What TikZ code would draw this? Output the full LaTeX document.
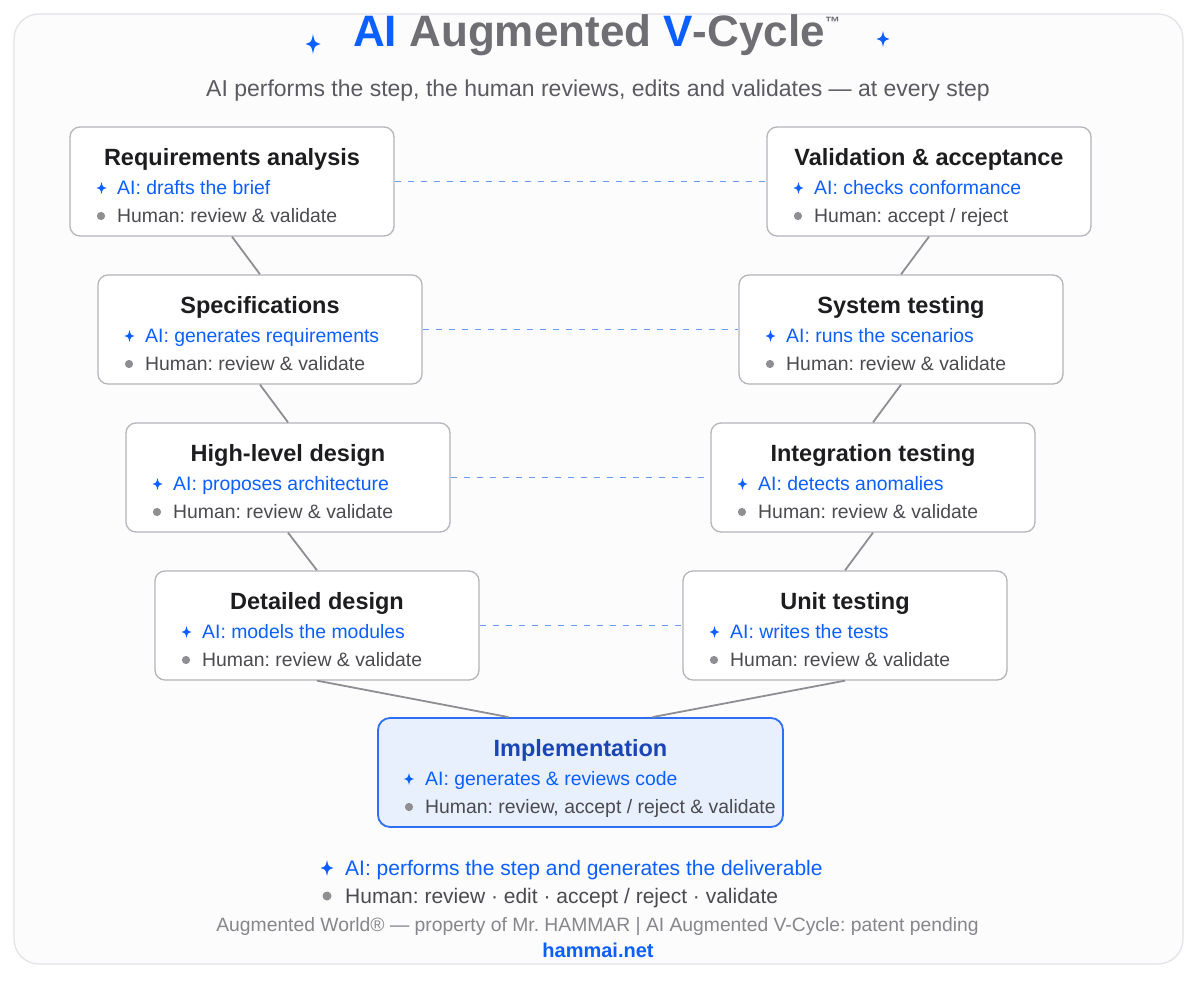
\documentclass[tikz,border=0pt]{standalone}
\usepackage{fontspec}
\setmainfont{Liberation Sans}
\frenchspacing
\definecolor{aiblue}{HTML}{0B5FFF}
\definecolor{headdark}{HTML}{1D1D1F}
\definecolor{humgray}{HTML}{4A4A4F}
\definecolor{titlegray}{HTML}{6E6E73}
\definecolor{subgray}{HTML}{5A5A60}
\definecolor{footgray}{HTML}{86868B}
\definecolor{boxgray}{HTML}{B5B5BA}
\definecolor{conngray}{HTML}{8E8E93}
\definecolor{dotgray}{HTML}{8E8E93}
\definecolor{dashblue}{HTML}{6A9AF7}
\definecolor{implfill}{HTML}{E8F0FE}
\definecolor{impldraw}{HTML}{2F6FF5}
\definecolor{implhead}{HTML}{1A46B5}
\definecolor{framegray}{HTML}{E3E3E8}
\definecolor{framefill}{HTML}{FCFCFD}
\tikzset{
  boxst/.style={draw=boxgray, line width=1.3pt, fill=white, rounded corners=10pt,
    minimum width=324pt, minimum height=109pt, inner sep=0pt},
  implst/.style={draw=impldraw, line width=1.8pt, fill=implfill, rounded corners=12pt,
    minimum width=405pt, minimum height=109pt, inner sep=0pt},
  headst/.style={anchor=base, text=headdark, font=\bfseries\fontsize{23.5}{28}\selectfont, inner sep=0pt},
  aist/.style={anchor=base west, text=aiblue, font=\fontsize{19.4}{23}\selectfont, inner sep=0pt},
  humst/.style={anchor=base west, text=humgray, font=\fontsize{19.4}{23}\selectfont, inner sep=0pt},
  conn/.style={draw=conngray, line width=1.8pt},
  dashlink/.style={draw=dashblue, line width=1.4pt, dash pattern=on 6pt off 7pt},
  spark/.pic={\fill (0,-1) .. controls (0.2,-0.2) .. (1,0) .. controls (0.2,0.2) .. (0,1)
     .. controls (-0.2,0.2) .. (-1,0) .. controls (-0.2,-0.2) .. (0,-1) -- cycle;}
}
% #1 name, #2 x0, #3 y0, #4 heading, #5 AI line, #6 human line
\newcommand\vstep[6]{%
  \node[boxst] (#1) at (#2+162,#3+54.5) {};
  \node[headst] (#1-h) at (#2+162,#3+38) {#4};
  \pic[color=aiblue, xscale=5.2, yscale=6] at (#2+31.5,#3+61) {spark};
  \node[aist] (#1-a) at (#2+47,#3+67.5) {#5};
  \fill[dotgray] (#2+31,#3+89) circle (4.1);
  \node[humst] (#1-u) at (#2+47,#3+95.5) {#6};
}
\begin{document}
\begin{tikzpicture}[x=1pt,y=-1pt]
\useasboundingbox (0,0) rectangle (1200,982);
\fill[white] (0,0) rectangle (1200,982);
\draw[draw=framegray, fill=framefill, line width=1.3pt, rounded corners=25pt] (14,14) rectangle (1183,964);

% title
\node[anchor=base west, inner sep=0pt, font=\bfseries\fontsize{44}{44}\selectfont] (title) at (353,47)
  {\textcolor{aiblue}{AI} \textcolor{titlegray}{Augmented} \textcolor{aiblue}{V}\textcolor{titlegray}{-Cycle\raisebox{19pt}{\fontsize{15}{15}\selectfont ™}}};
\pic[color=aiblue, xscale=7.5, yscale=10] at (313,44) {spark};
\pic[color=aiblue, xscale=6.5, yscale=8] at (883,39) {spark};
\node[anchor=base, inner sep=0pt, text=subgray, font=\fontsize{23}{27}\selectfont] (subtitle) at (598,96)
  {AI performs the step, the human reviews, edits and validates — at every step};

% left branch
\vstep{req}{70}{127}{Requirements analysis}{AI: drafts the brief}{Human: review \& validate}
\vstep{spec}{98}{275}{Specifications}{AI: generates requirements}{Human: review \& validate}
\vstep{hld}{126}{423}{High-level design}{AI: proposes architecture}{Human: review \& validate}
\vstep{dd}{155}{571}{Detailed design}{AI: models the modules}{Human: review \& validate}
% right branch
\vstep{val}{767}{127}{Validation \& acceptance}{AI: checks conformance}{Human: accept / reject}
\vstep{sys}{739}{275}{System testing}{AI: runs the scenarios}{Human: review \& validate}
\vstep{integ}{711}{423}{Integration testing}{AI: detects anomalies}{Human: review \& validate}
\vstep{unit}{683}{571}{Unit testing}{AI: writes the tests}{Human: review \& validate}

% implementation
\node[implst] (impl) at (580.5,772.5) {};
\node[headst, text=implhead] (impl-h) at (580.5,756) {Implementation};
\pic[color=aiblue, xscale=5.2, yscale=6] at (409,779) {spark};
\node[aist] (impl-a) at (425,785.5) {AI: generates \& reviews code};
\fill[dotgray] (409,807) circle (4.1);
\node[humst] (impl-u) at (425,813.5) {Human: review, accept / reject \& validate};

% connectors
\coordinate (implL) at ([xshift=-72pt]impl.north);
\coordinate (implR) at ([xshift=72pt]impl.north);
\draw[conn] (req.south) -- (spec.north);
\draw[conn] (spec.south) -- (hld.north);
\draw[conn] (hld.south) -- (dd.north);
\draw[conn] (dd.south) -- (implL);
\draw[conn] (val.south) -- (sys.north);
\draw[conn] (sys.south) -- (integ.north);
\draw[conn] (integ.south) -- (unit.north);
\draw[conn] (unit.south) -- (implR);
\draw[dashlink] (req.east) -- (val.west);
\draw[dashlink] (spec.east) -- (sys.west);
\draw[dashlink] (hld.east) -- (integ.west);
\draw[dashlink] (dd.east) -- (unit.west);

% legend
\pic[color=aiblue, xscale=6.5, yscale=8] at (327,868) {spark};
\node[anchor=base west, inner sep=0pt, text=aiblue, font=\fontsize{21}{25}\selectfont] (legai) at (345,875)
  {AI: performs the step and generates the deliverable};
\fill[dotgray] (327,896) circle (4.5);
\node[anchor=base west, inner sep=0pt, text=humgray, font=\fontsize{21}{25}\selectfont] (leghum) at (345,903)
  {Human: review · edit · accept / reject · validate};
\node[anchor=base, inner sep=0pt, text=footgray, font=\fontsize{19.3}{23}\selectfont] (foot) at (597.5,931)
  {Augmented World® — property of Mr. HAMMAR | AI Augmented V-Cycle: patent pending};
\node[anchor=base, inner sep=0pt, text=aiblue, font=\bfseries\fontsize{20}{24}\selectfont] (site) at (598,957)
  {hammai.net};
\end{tikzpicture}
\end{document}
